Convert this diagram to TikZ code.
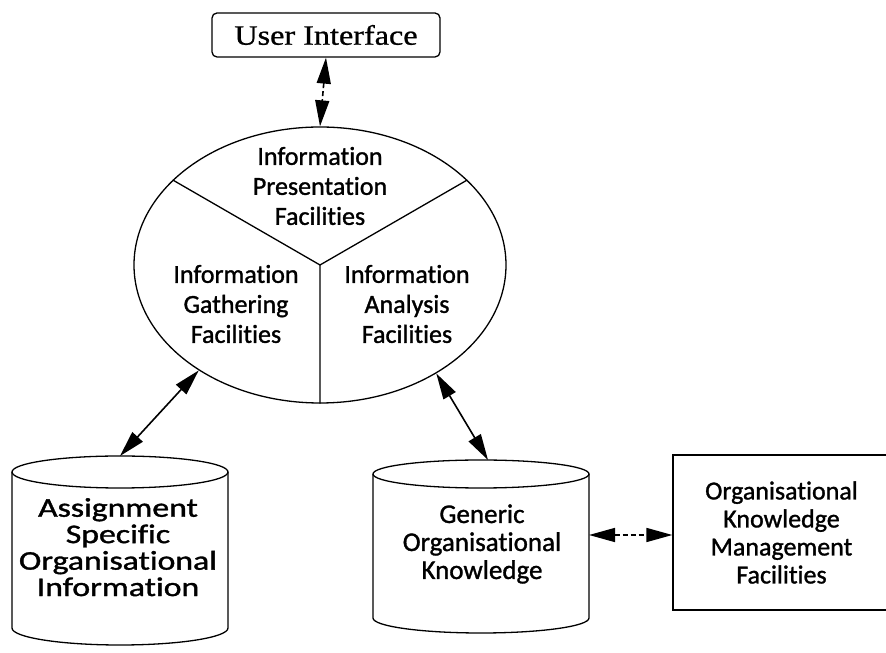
\documentclass[tikz,border=0pt]{standalone}
\usepackage{fontspec}
\setmainfont{Carlito}[Ligatures={NoCommon}, FakeBold=1.2]
\newfontfamily\uifont{Liberation Serif}[FakeBold=0.8]
\usetikzlibrary{arrows.meta,shapes.geometric}

\begin{document}
\begin{tikzpicture}[x=1pt,y=1pt,
  line width=1.3pt,
  lbl/.style={align=center, inner sep=0pt, font=\fontsize{26}{30}\selectfont},
  link/.style={<->, >={Triangle[length=26pt,width=14pt]}, line width=1.6pt},
  dashlink/.style={link, dash pattern=on 5pt off 3pt},
]
\useasboundingbox (0,0) rectangle (886,653);
\clip (0,0) rectangle (886,653);

% user interface
\node[draw, rounded corners=5pt, minimum width=228, minimum height=44, inner sep=0pt]
  (ui) at (326,618) {\uifont\fontsize{28}{30}\selectfont\scalebox{1.15}[1]{User Interface}};

% central facilities ellipse, split in three
\node[draw, ellipse, minimum width=372, minimum height=276, inner sep=0pt] (hub) at (320,388) {};
\draw (hub.center) -- (hub.150) (hub.center) -- (hub.30) (hub.center) -- (hub.south);
\node[lbl] (pres) at (320,467) {Information\\Presentation\\Facilities};
\node[lbl] (gath) at (236,349) {Information\\Gathering\\Facilities};
\node[lbl] (anal) at (407,349) {Information\\Analysis\\Facilities};

% assignment specific store
\draw (120,181) ellipse [x radius=108, y radius=16];
\draw (12,181) -- (12,25) arc [start angle=180, end angle=360, x radius=108, y radius=17] -- (228,181);
\node[lbl, font=\fontsize{27}{26}\selectfont] (asi) at (118,102)
  {\scalebox{1.25}[1]{\begin{tabular}{@{}c@{}}Assignment\\Specific\\Organisational\\Information\end{tabular}}};
\coordinate (asiTop) at (120,197);

% generic knowledge store
\draw (481,179) ellipse [x radius=108, y radius=14];
\draw (373,179) -- (373,35) arc [start angle=180, end angle=360, x radius=108, y radius=15] -- (589,179);
\node[lbl, font=\fontsize{27}{28}\selectfont] (gok) at (482,109) {Generic\\Organisational\\Knowledge};
\coordinate (gokTop) at (488,193);
\coordinate (gokRight) at (589,118);

% management facilities
\node[draw, minimum width=217, minimum height=155, inner sep=0pt, align=center,
  font=\fontsize{26}{28}\selectfont] (okm) at (781.5,120.5)
  {Organisational\\Knowledge\\Management\\Facilities};

% connectors
\draw[dashlink] (ui.south) -- (hub.north);
\draw[link] (hub.221) -- (asiTop);
\draw[link] (hub.317) -- (gokTop);
\draw[dashlink] (gokRight) -- (gokRight -| okm.west);
\end{tikzpicture}
\end{document}
